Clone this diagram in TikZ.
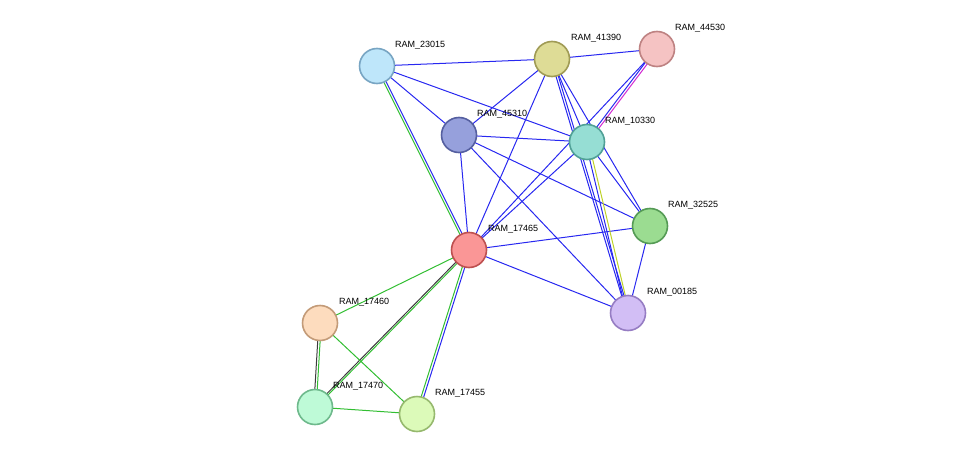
\documentclass[tikz,border=0pt]{standalone}
\usepackage{fontspec}
\setmainfont{Liberation Sans}
\begin{document}
\begin{tikzpicture}[x=1pt,y=-1pt,
  nd/.style={circle,draw,line width=1.6pt,minimum size=35pt,inner sep=0pt},
  lb/.style={font=\fontsize{9}{10}\selectfont,anchor=south west,inner sep=0pt},
  bl/.style={draw={rgb,255:red,40;green,40;blue,240},line width=1pt},
  gr/.style={draw={rgb,255:red,50;green,190;blue,50},line width=1pt},
  bk/.style={draw={rgb,255:red,60;green,60;blue,60},line width=1pt}]
\useasboundingbox (0,0) rectangle (976,460);
\coordinate (a) at (377,66);
\coordinate (b) at (552,59);
\coordinate (c) at (657,49);
\coordinate (d) at (459,135);
\coordinate (e) at (587,142);
\coordinate (f) at (650,226);
\coordinate (g) at (469,250);
\coordinate (h) at (628,313);
\coordinate (i) at (320,323);
\coordinate (j) at (315,407);
\coordinate (k) at (417,414);
% blue edges
\foreach \u/\v in {a/b,a/d,a/e,b/c,b/d,b/e,b/g,b/f,d/e,d/g,d/f,d/h,e/f,f/g,f/h,g/h}
  \path[bl] (\u) -- (\v);
\path[bl] ([xshift=-1.2pt]b) -- ([xshift=-1.2pt]h);
\path[bl] ([xshift=1.2pt]b) -- ([xshift=1.2pt]h);
\path[bl] ([xshift=-1.5pt]c) -- ([xshift=-1.5pt]e);
\path[draw={rgb,255:red,210;green,40;blue,210},line width=1pt] ([xshift=1.5pt]c) -- ([xshift=1.5pt]e);
\path[bl] (c) -- (g);
\path[bl] (e) -- (g);
\path[bl] ([xshift=-1.5pt]e) -- ([xshift=-1.5pt]h);
\path[draw={rgb,255:red,190;green,210;blue,40},line width=1pt] ([xshift=1.5pt]e) -- ([xshift=1.5pt]h);
\path[gr] ([xshift=-1.3pt]a) -- ([xshift=-1.3pt]g);
\path[bl] ([xshift=1.3pt]a) -- ([xshift=1.3pt]g);
\path[gr] ([xshift=-1.3pt]g) -- ([xshift=-1.3pt]k);
\path[bl] ([xshift=1.3pt]g) -- ([xshift=1.3pt]k);
\path[gr] (g) -- (i);
\path[bk] ([xshift=-1.2pt]g) -- ([xshift=-1.2pt]j);
\path[gr] ([xshift=1.2pt]g) -- ([xshift=1.2pt]j);
\path[bk] ([xshift=-1.2pt]i) -- ([xshift=-1.2pt]j);
\path[gr] ([xshift=1.2pt]i) -- ([xshift=1.2pt]j);
\path[gr] (i) -- (k);
\path[gr] (j) -- (k);
% nodes
\node[nd,fill={rgb,255:red,190;green,230;blue,250},draw={rgb,255:red,120;green,165;blue,195}] (A) at (a) {};
\node[nd,fill={rgb,255:red,222;green,220;blue,150},draw={rgb,255:red,160;green,155;blue,85}] (B) at (b) {};
\node[nd,fill={rgb,255:red,245;green,195;blue,195},draw={rgb,255:red,190;green,130;blue,130}] (C) at (c) {};
\node[nd,fill={rgb,255:red,150;green,160;blue,220},draw={rgb,255:red,85;green,95;blue,160}] (D) at (d) {};
\node[nd,fill={rgb,255:red,150;green,222;blue,212},draw={rgb,255:red,80;green,160;blue,150}] (E) at (e) {};
\node[nd,fill={rgb,255:red,155;green,220;blue,145},draw={rgb,255:red,85;green,155;blue,85}] (F) at (f) {};
\node[nd,fill={rgb,255:red,250;green,150;blue,150},draw={rgb,255:red,190;green,80;blue,80}] (G) at (g) {};
\node[nd,fill={rgb,255:red,210;green,190;blue,245},draw={rgb,255:red,150;green,125;blue,195}] (H) at (h) {};
\node[nd,fill={rgb,255:red,253;green,220;blue,190},draw={rgb,255:red,195;green,155;blue,120}] (I) at (i) {};
\node[nd,fill={rgb,255:red,190;green,250;blue,215},draw={rgb,255:red,110;green,185;blue,140}] (J) at (j) {};
\node[nd,fill={rgb,255:red,220;green,250;blue,185},draw={rgb,255:red,150;green,185;blue,110}] (K) at (k) {};
\node[lb] at (395,49) {RAM\_23015};
\node[lb] at (571,42) {RAM\_41390};
\node[lb] at (675,32) {RAM\_44530};
\node[lb] at (477,118) {RAM\_45310};
\node[lb] at (605,125) {RAM\_10330};
\node[lb] at (668,209) {RAM\_32525};
\node[lb] at (488,233) {RAM\_17465};
\node[lb] at (647,296) {RAM\_00185};
\node[lb] at (339,306) {RAM\_17460};
\node[lb] at (333,390) {RAM\_17470};
\node[lb] at (435,397) {RAM\_17455};
\end{tikzpicture}
\end{document}
